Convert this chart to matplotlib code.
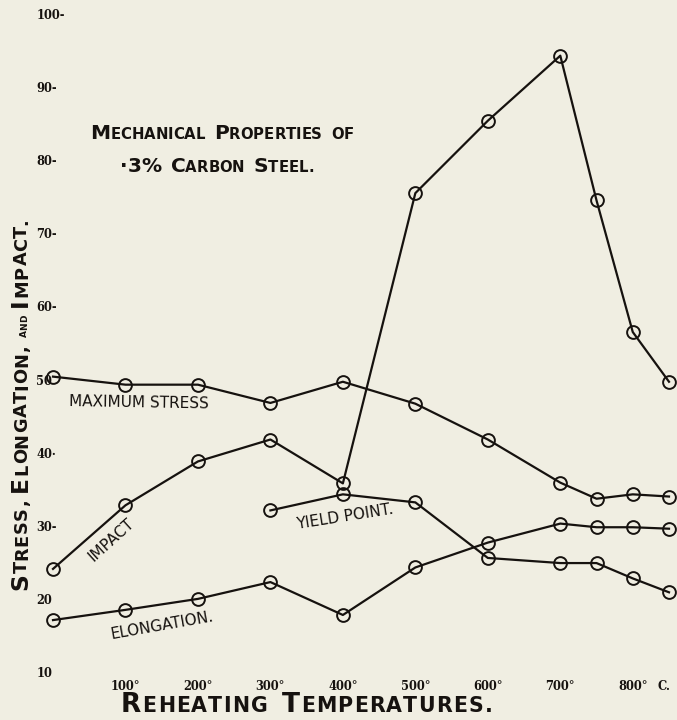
import matplotlib
matplotlib.use("Agg")
import matplotlib.pyplot as plt

# ---------------- data ----------------
temps = [0, 100, 200, 300, 400, 500, 600, 700, 750, 800, 850]
max_stress = [50.4, 49.3, 49.3, 46.8, 49.7, 46.7, 41.8, 35.9, 33.7, 34.3, 34.0]
impact = [24.1, 32.8, 38.8, 41.8, 35.8, 75.5, 85.4, 94.3, 74.5, 56.5, 49.7]
yield_temps = [300, 400, 500, 600, 700, 750, 800, 850]
yield_point = [32.1, 34.3, 33.2, 25.6, 24.9, 24.9, 22.8, 20.9]
elongation = [17.1, 18.5, 20.0, 22.3, 17.8, 24.3, 27.7, 30.3, 29.8, 29.8, 29.6]

y_ticks = [10, 20, 30, 40, 50, 60, 70, 80, 90, 100]
y_tick_labels = ["10", "20", "30-", "40\u00b7", "50", "60-", "70-", "80-", "90-", "100-"]
x_ticks = [100, 200, 300, 400, 500, 600, 700, 800]
x_tick_labels = ["100\u00b0", "200\u00b0", "300\u00b0", "400\u00b0", "500\u00b0",
                 "600\u00b0", "700\u00b0", "800\u00b0"]

BG = "#f0eee2"
INK = "#16120f"
FONT = "DejaVu Sans"

fig = plt.figure(figsize=(6.77, 7.20), dpi=100, facecolor=BG)
W, H = 677, 720
ax = fig.add_axes([53 / W, (720 - 672) / H, (669 - 53) / W, (672 - 14) / H])
ax.set_facecolor(BG)
ax.set_xlim(0, 850)
ax.set_ylim(10, 100)
for s in ax.spines.values():
    s.set_visible(False)

line_kw = dict(color=INK, lw=1.6, marker="o", ms=9.2, mfc="none",
               mec=INK, mew=1.4, clip_on=False)
ax.plot(temps, max_stress, **line_kw)
ax.plot(temps, impact, **line_kw)
ax.plot(yield_temps, yield_point, **line_kw)
ax.plot(temps, elongation, **line_kw)

# ticks
ax.set_yticks(y_ticks)
ax.set_yticklabels(y_tick_labels, ha="left", fontsize=8.3, fontweight="bold",
                   family="DejaVu Serif", color=INK)
ax.tick_params(axis="y", length=0, pad=12)
ax.set_xticks(x_ticks)
ax.set_xticklabels(x_tick_labels, fontsize=8.3, fontweight="bold",
                   family="DejaVu Serif", color=INK)
ax.tick_params(axis="x", length=0, pad=6)
fig.text(657 / W, 1 - 690 / H, "C.", fontsize=8.3, fontweight="bold",
         family="DejaVu Serif", color=INK, ha="left", va="baseline")

# line labels
lab_kw = dict(fontsize=11, family=FONT, color=INK, ha="center", va="center")
ax.text(119, 46.8, "MAXIMUM STRESS", rotation=-1, **lab_kw)
ax.text(81, 28.1, "IMPACT", rotation=42, **lab_kw)
ax.text(403, 31.2, "YIELD POINT.", rotation=9, **lab_kw)
ax.text(150, 16.4, "ELONGATION.", rotation=10, **lab_kw)


def small_caps(x, y, words, sizes, rotation=0, gap=8, track=0.0, weight="bold"):
    """x, y in pixels from top-left; words: list of lists of (text, size-key)."""
    r = fig.canvas.get_renderer()
    px, py = x, H - y
    for word in words:
        for s, key in word:
            fs = sizes[key]
            for ch in s:
                t = fig.text(px / W, py / H, ch, fontsize=fs, rotation=rotation,
                             rotation_mode="anchor", ha="left", va="baseline",
                             family=FONT, fontweight=weight, color=INK)
                bb = t.get_window_extent(r)
                if rotation == 0:
                    px += bb.width + track
                else:
                    py += bb.height + track
        if rotation == 0:
            px += gap
        else:
            py += gap


title_sizes = {"b": 14.5, "s": 10.7}
small_caps(90, 139, [[("M", "b"), ("ECHANICAL", "s")],
                     [("P", "b"), ("ROPERTIES", "s")],
                     [("OF", "s")]], title_sizes, gap=9)
small_caps(120, 172, [[("\u00b73%", "b")],
                      [("C", "b"), ("ARBON", "s")],
                      [("S", "b"), ("TEEL.", "s")]], title_sizes, gap=9)
small_caps(121, 712, [[("R", "b"), ("EHEATING", "s")],
                      [("T", "b"), ("EMPERATURES.", "s")]],
           {"b": 19, "s": 14.8}, gap=13, track=1.2)
small_caps(27, 590, [[("S", "b"), ("TRESS,", "s")],
                     [("E", "b"), ("LONGATION,", "s")],
                     [("AND", "t")],
                     [("I", "b"), ("MPACT.", "s")]],
           {"b": 16.8, "s": 12.8, "t": 6.5}, rotation=90, gap=7, track=0.6)

fig.savefig("out.png", dpi=100, facecolor=BG)
